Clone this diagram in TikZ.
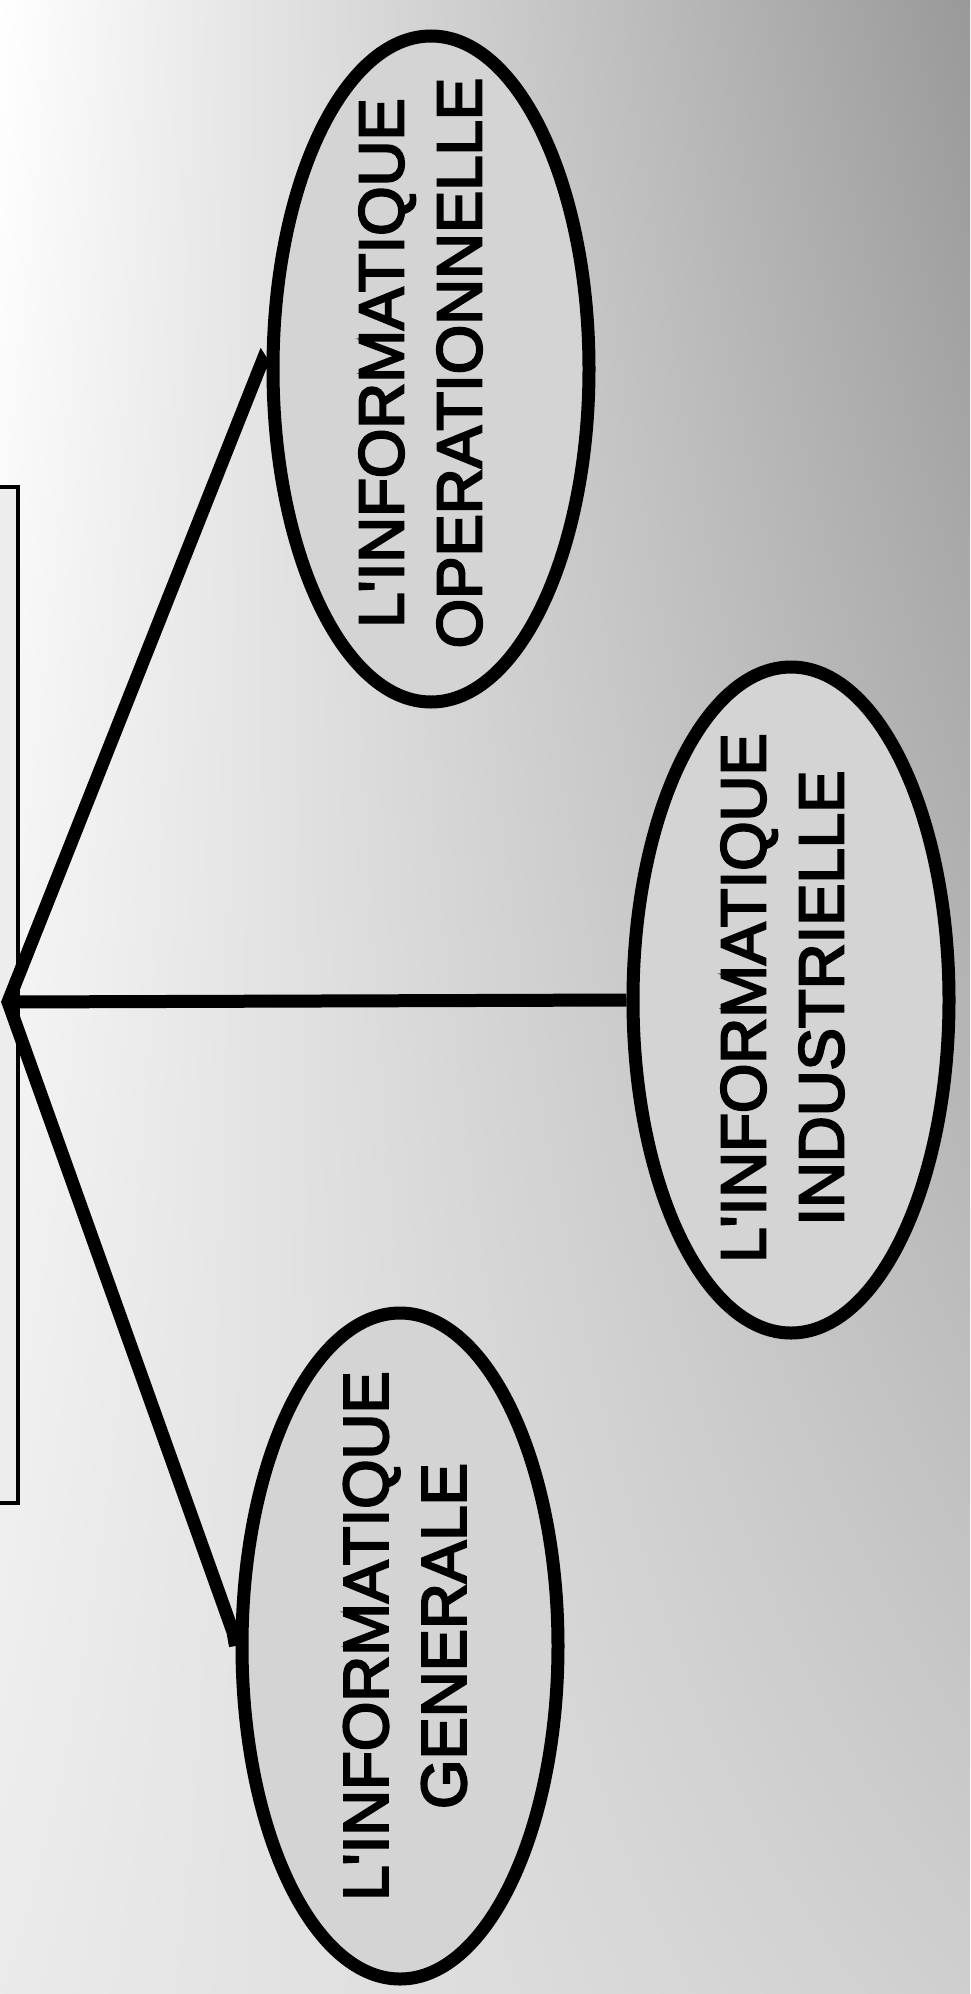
\documentclass[tikz,border=0pt]{standalone}
\usepackage{fontspec}
\newfontfamily\arialfont[FakeBold=3.5]{Liberation Sans}
\usetikzlibrary{shapes.geometric,shadings}
\tikzset{
  ell/.style={ellipse, draw=black, line width=13pt, fill=gray!34,
    minimum width=316pt, minimum height=666pt, inner sep=0pt},
  txt/.style={rotate=90, align=center, inner sep=0pt,
    font={\arialfont\fontsize{63.5}{78}\selectfont}},
  conn/.style={draw=black, line width=13pt, line join=miter},
  frame/.style={draw=black, line width=4pt}
}
\begin{document}
\begin{tikzpicture}[x=1pt, y=-1pt]
  \useasboundingbox (0,0) rectangle (970,1994);
  \shade[upper left=white, lower left=white!92!black,
         upper right=gray!80, lower right=gray!38]
    (0,0) rectangle (970,1994);
  % thin box at left
  \node[frame, minimum width=36pt, minimum height=1016pt, inner sep=0pt,
        fill=white!93!black] (box) at (0,995) {};
  % ellipses
  \node[ell] (op)  at (431,369)  {};
  \node[ell] (ind) at (791,1000) {};
  \node[ell] (gen) at (400,1646) {};
  % texts
  \node[txt] (opt)  at (420.5,363) {L\textquotesingle INFORMATIQUE\\OPERATIONNELLE};
  \node[txt] (indt) at (782.5,998) {L\textquotesingle INFORMATIQUE\\INDUSTRIELLE};
  \node[txt] (gent) at (405,1636) {L\textquotesingle INFORMATIQUE\\GENERALE};
  % connectors
  \coordinate (hub) at (8,1002);
  \coordinate (opend) at (262,362);
  \coordinate (genend) at (233,1632);
  \draw[conn] (op.west) -- (opend) -- (hub) -- (genend) -- (gen.west);
  \draw[conn] (hub) -- (ind.west);
\end{tikzpicture}
\end{document}
